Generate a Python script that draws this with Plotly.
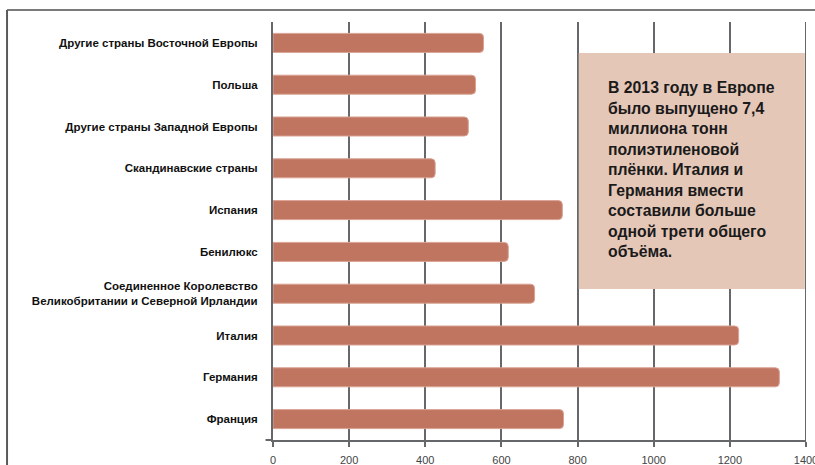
import plotly.graph_objects as go

# Polyethylene film production in Europe, 2013 (thousand tonnes), bottom to top
regions = [
    "Франция",
    "Германия",
    "Италия",
    "Соединенное Королевство<br>Великобритании и Северной Ирландии",
    "Бенилюкс",
    "Испания",
    "Скандинавские страны",
    "Другие страны Западной Европы",
    "Польша",
    "Другие страны Восточной Европы",
]
volumes = [763, 1330, 1223, 687, 618, 760, 426, 513, 532, 553]

x_ticks = [0, 200, 400, 600, 800, 1000, 1200, 1400]

note_lines = [
    "В 2013 году в Европе",
    "было выпущено 7,4",
    "миллиона тонн",
    "полиэтиленовой",
    "плёнки. Италия и",
    "Германия вмести",
    "составили больше",
    "одной трети общего",
    "объёма.",
]

FONT = "Liberation Sans, Arial, Helvetica, sans-serif"
GRID = "#65676a"

fig = go.Figure(
    go.Bar(
        x=volumes,
        y=regions,
        orientation="h",
        marker=dict(
            color="#c07560",
            line=dict(color="#d9a394", width=1),
            cornerradius=4,
        ),
        hoverinfo="x+y",
    )
)

fig.update_layout(
    width=815,
    height=465,
    margin=dict(l=273, r=9, t=22, b=25, autoexpand=False),
    paper_bgcolor="white",
    plot_bgcolor="white",
    bargap=0.545,
    showlegend=False,
    font=dict(family=FONT, color="#222"),
    xaxis=dict(
        range=[0, 1400],
        tickvals=x_ticks,
        ticktext=[str(v) for v in x_ticks],
        showgrid=True,
        gridcolor=GRID,
        gridwidth=2,
        zeroline=False,
        showline=True,
        linecolor=GRID,
        linewidth=2,
        ticks="outside",
        ticklen=5,
        tickwidth=2,
        tickcolor=GRID,
        tickfont=dict(size=11, color="#444", family=FONT),
        ticklabelstandoff=4,
        ticklabeloverflow="allow",
        automargin=False,
        fixedrange=True,
    ),
    yaxis=dict(
        showgrid=False,
        zeroline=False,
        showline=True,
        linecolor=GRID,
        linewidth=2,
        ticks="",
        tickfont=dict(size=11.5, color="#111", family=FONT, weight="bold"),
        ticklabelstandoff=11,
        automargin=False,
        fixedrange=True,
    ),
)

# outer frame (top and left edges)
fig.add_shape(type="line", xref="paper", yref="paper",
              x0=-0.499, x1=1.1, y0=1.0287, y1=1.0287,
              line=dict(color="#7a7a7a", width=2))
fig.add_shape(type="line", xref="paper", yref="paper",
              x0=-0.499, x1=-0.499, y0=-0.1, y1=1.0287,
              line=dict(color="#5a5a5a", width=2))
# short extension of the x axis line to the left of the y axis
fig.add_shape(type="line", xref="paper", yref="paper",
              x0=-0.014, x1=0, y0=0, y1=0,
              line=dict(color=GRID, width=2))

# callout box
fig.add_shape(type="rect", xref="x", yref="paper",
              x0=803, x1=1397, y0=0.361, y1=0.926,
              fillcolor="#e5c7b8", line=dict(width=0), layer="above")
# right-hand gridline at the end of the range
fig.add_shape(type="line", xref="x", yref="paper",
              x0=1400, x1=1400, y0=0, y1=1,
              line=dict(color=GRID, width=2), layer="above")

fig.add_annotation(
    xref="x", yref="paper",
    x=875, y=0.868,
    xanchor="left", yanchor="top", align="left",
    showarrow=False,
    text="<br>".join(note_lines),
    font=dict(size=15.8, color="#1a1a1a", family=FONT, weight="bold"),
)

fig.write_html("out.html")
